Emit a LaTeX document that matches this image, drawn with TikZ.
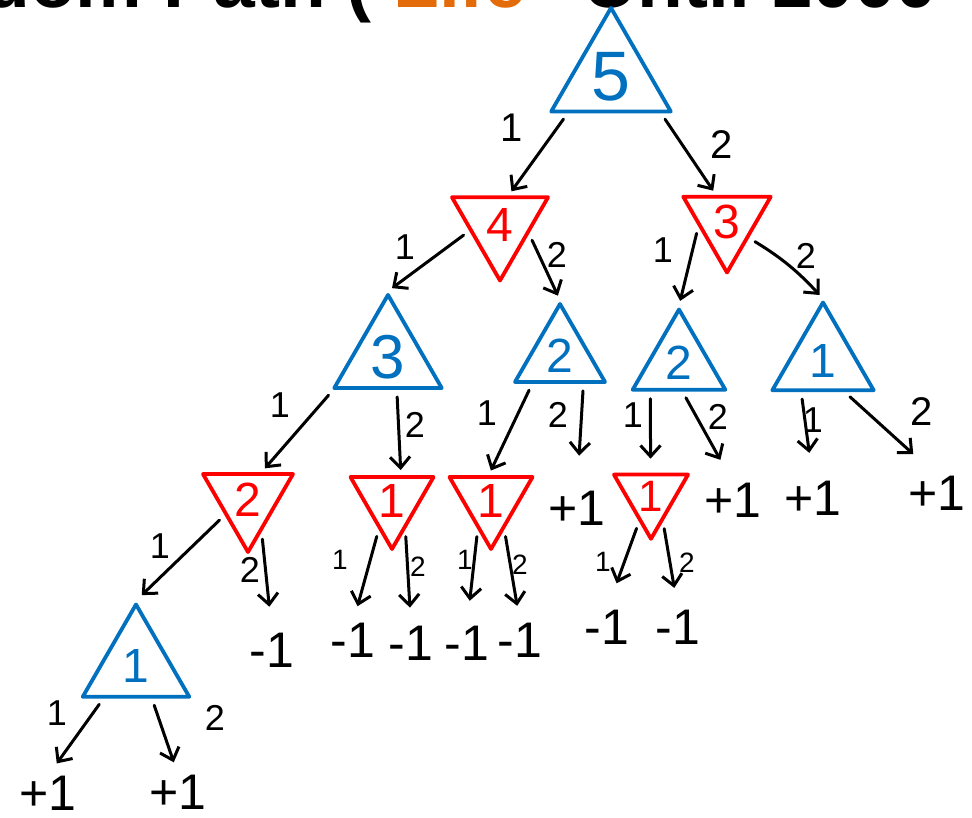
\documentclass[tikz,border=0pt]{standalone}
\usepackage{fontspec}
\setmainfont{Liberation Sans}
\usetikzlibrary{arrows.meta,shapes.geometric}
\definecolor{maxblue}{rgb}{0.00,0.44,0.75}
\definecolor{minred}{rgb}{1.00,0.00,0.00}
\definecolor{titleorange}{rgb}{0.89,0.42,0.04}

\begin{document}
\begin{tikzpicture}[x=1pt,y=-1pt,line cap=round,line join=round,
   maxn/.style={draw=maxblue,text=maxblue,regular polygon,regular polygon sides=3,
     line width=3.8pt,inner sep=0pt,font=\fontsize{48}{48}\selectfont},
   minn/.style={maxn,draw=minred,text=minred,shape border rotate=180},
   leaf/.style={inner sep=0pt,font=\fontsize{50}{50}\selectfont},
   lbl/.style={inner sep=0pt,font=\fontsize{36}{36}\selectfont},
   slbl/.style={inner sep=0pt,font=\fontsize{28}{28}\selectfont},
   ttl/.style={inner sep=0pt,font=\fontsize{75}{75}\bfseries\selectfont},
   arr/.style={-{Straight Barb[length=11pt,width=20pt]},line width=3pt,
     shorten <=7pt,shorten >=5pt}]
  \useasboundingbox (0,0) rectangle (972,818);
  \clip (0,0) rectangle (972,818);
  % title, cut off at the top
  \node[ttl,anchor=base east] (tpath) at (372,8) {Random Path (};
  \node[ttl,anchor=base west,text=titleorange] (tlife) at (393,8) {Life};
  \node[ttl,anchor=base west] (tuntil) at (583,8) {Until 1000};
  % game tree
  \node[maxn,minimum size=131pt,font=\fontsize{70}{70}\selectfont] (n5) at (611,77) {5};
  \node[minn,minimum size=111pt] (n4) at (500,225) {4};
  \node[minn,minimum size=101pt] (n3) at (727,222) {3};
  \node[maxn,minimum size=104pt,font=\fontsize{62}{62}\selectfont] (m3) at (388,357) {3};
  \node[maxn,minimum size=104pt] (m2a) at (560,356) {2};
  \node[maxn,minimum size=107pt] (m2b) at (679,363) {2};
  \node[maxn,minimum size=117pt] (m1) at (823,361) {1};
  \node[minn,minimum size=104pt] (k2) at (248,500) {2};
  \node[minn,minimum size=96pt] (k1a) at (392,501) {1};
  \node[minn,minimum size=96pt] (k1b) at (491,501) {1};
  \node[minn,minimum size=85pt,font=\fontsize{44}{44}\selectfont] (k1c) at (651,496) {1};
  \node[maxn,minimum size=123pt] (j1) at (136,666) {1};
  % outcomes
  \node[leaf] (p1) at (577,508) {+1};
  \node[leaf] (p2) at (733,500) {+1};
  \node[leaf] (p3) at (813,498) {+1};
  \node[leaf] (p4) at (937,493) {+1};
  \node[leaf] (q1) at (272,650) {-1};
  \node[leaf] (q2) at (353,640) {-1};
  \node[leaf] (q3) at (411,643) {-1};
  \node[leaf] (q4) at (467,643) {-1};
  \node[leaf] (q5) at (520,640) {-1};
  \node[leaf] (q6) at (607,627) {-1};
  \node[leaf] (q7) at (678,627) {-1};
  \node[leaf] (p5) at (48,793) {+1};
  \node[leaf] (p6) at (178,792) {+1};
  % moves
  \draw[arr] (n5.220) -- (n4.74);
  \draw[arr] (n5.324) -- (n3.112);
  \draw[arr] (n4.191) -- (m3.corner 1);
  \draw[arr] (n4.343) -- (m2a.corner 1);
  \draw[arr] (n3.189) -- (m2b.corner 1);
  \draw[arr] (n3.324) to[bend left=8] (m1.corner 1);
  \draw[arr] (m3.211) -- (k2.64);
  \draw[arr] (m3.285) -- (k1a.71);
  \draw[arr] (m2a.225) -- (k1b.95);
  \draw[arr,shorten >=35pt] (m2a.310) -- (p1.north);
  \draw[arr,shorten >=14pt] (m2b.225) -- (k1c.91);
  \draw[arr,shorten >=26pt] (m2b.277) -- (p2.north);
  \draw[arr,shorten >=28pt] (m1.235) -- (p3.north);
  \draw[arr,shorten >=32pt] (m1.305) -- (p4.north);
  \draw[arr,shorten >=8pt] (k2.213) -- (j1.corner 1);
  \draw[arr,shorten >=26pt] (k2.293) -- (q1.north);
  \draw[arr,shorten >=17pt] (k1a.245) -- (q2.north);
  \draw[arr,shorten >=18pt] (k1a.295) -- (q3.north);
  \draw[arr,shorten >=25pt] (k1b.245) -- (q4.north);
  \draw[arr,shorten >=17pt] (k1b.295) -- (q5.north);
  \draw[arr,shorten >=28pt] (k1c.245) -- (q6.north);
  \draw[arr,shorten >=22pt] (k1c.295) -- (q7.north);
  \draw[arr,shorten >=15pt] (j1.225) -- (p5.north);
  \draw[arr,shorten >=13pt] (j1.296) -- (p6.north);
  % move labels
  \node[lbl,font=\fontsize{40}{40}\selectfont] (l51) at (512,128) {1};
  \node[lbl,font=\fontsize{40}{40}\selectfont] (l52) at (722,145) {2};
  \node[lbl] (l41) at (405,247) {1};
  \node[lbl] (l42) at (557,255) {2};
  \node[lbl] (l31) at (663,250) {1};
  \node[lbl] (l32) at (806,256) {2};
  \node[lbl] (lm31) at (280,405) {1};
  \node[lbl] (lm32) at (415,425) {2};
  \node[lbl] (la1) at (487,413) {1};
  \node[lbl] (la2) at (558,415) {2};
  \node[lbl] (lb1) at (633,415) {1};
  \node[lbl] (lb2) at (718,417) {2};
  \node[lbl] (lc1) at (813,420) {1};
  \node[lbl,font=\fontsize{40}{40}\selectfont] (lc2) at (922,412) {2};
  \node[lbl] (lk1) at (160,546) {1};
  \node[lbl] (lk2) at (250,570) {2};
  \node[slbl] (lx1) at (340,560) {1};
  \node[slbl] (lx2) at (418,567) {2};
  \node[slbl] (ly1) at (465,560) {1};
  \node[slbl] (ly2) at (520,565) {2};
  \node[slbl] (lz1) at (603,562) {1};
  \node[slbl] (lz2) at (687,563) {2};
  \node[lbl] (lj1) at (57,713) {1};
  \node[lbl] (lj2) at (215,718) {2};
\end{tikzpicture}
\end{document}
